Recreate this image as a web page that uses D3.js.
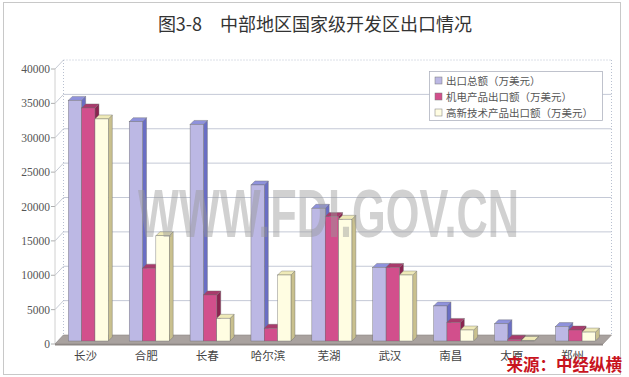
<!DOCTYPE html>
<html><head><meta charset="utf-8">
<script src="https://cdn.jsdelivr.net/npm/d3@7"></script>
<style>html,body{margin:0;padding:0;background:#fff;}svg{display:block;}</style>
</head><body>
<script>
const categories = ["长沙","合肥","长春","哈尔滨","芜湖","武汉","南昌","太原","郑州"];
const seriesNames = ["出口总额（万美元）","机电产品出口额（万美元）","高新技术产品出口额（万美元）"];
const totalExport = [35000, 31900, 31500, 22700, 19300, 10700, 5100, 2500, 2100];
const mechElecExport = [33900, 10600, 6700, 1850, 18100, 10700, 2700, 250, 1600];
const hiTechExport = [32300, 15300, 3300, 9600, 17700, 9600, 1600, 80, 1300];
const yTicks = [0,5000,10000,15000,20000,25000,30000,35000,40000];
const title = "图3-8　中部地区国家级开发区出口情况";
const sourceText = "来源：中经纵横";
const watermark = "WWW.FDI.GOV.CN";

const W = 629, H = 377;
const series = [totalExport, mechElecExport, hiTechExport];
const colors = [
  {front:"#bcb8e4", side:"#6a6ec4", top:"#8f92dc"},
  {front:"#d24f8c", side:"#8a2450", top:"#a93a6c"},
  {front:"#fffde2", side:"#c9c08e", top:"#efeab8"}
];

const svg = d3.select("body").append("svg").attr("width", W).attr("height", H);

// frame
svg.append("rect").attr("x",3.5).attr("y",2.5).attr("width",617).attr("height",372)
  .attr("fill","#fff").attr("stroke","#c8c8c8").attr("stroke-width",1);

const x = d3.scaleBand().domain(categories).range([55, 603]).paddingInner(0).paddingOuter(0);
const xs = d3.scaleBand().domain(d3.range(3)).range([13.3, 53.3]);
const y = d3.scaleLinear().domain([0, 40000]).range([344, 69]);
const wdx = 8.5, wdy = -9;   // back wall depth offset
const bdy = -3;             // bar plane offset
const ddx = 4, ddy = -4;    // bar depth

// back wall gridlines
const g = svg.append("g");
yTicks.forEach(t => {
  const yy = y(t) + wdy;
  if (t === 40000 || t === 0) return;
  g.append("line").attr("x1", 55 + wdx).attr("x2", 603 + wdx).attr("y1", yy).attr("y2", yy)
    .attr("stroke", "#c4c9d6").attr("stroke-width", 1);
});
// top dotted edge + wall verticals
g.append("line").attr("x1",55+wdx).attr("x2",603+wdx).attr("y1",y(40000)+wdy).attr("y2",y(40000)+wdy)
  .attr("stroke","#b8c0d0").attr("stroke-dasharray","1,2");
g.append("line").attr("x1",55+wdx).attr("x2",55+wdx).attr("y1",y(40000)+wdy).attr("y2",y(0)+wdy)
  .attr("stroke","#b8c0d0").attr("stroke-dasharray","1,2");
g.append("line").attr("x1",603+wdx).attr("x2",603+wdx).attr("y1",y(40000)+wdy).attr("y2",y(0)+wdy)
  .attr("stroke","#b8c0d0").attr("stroke-dasharray","1,2");

// side wall tick connectors and axis line
yTicks.forEach(t => {
  g.append("line").attr("x1",55).attr("y1",y(t)).attr("x2",55+wdx).attr("y2",y(t)+wdy)
    .attr("stroke","#b8bcc8").attr("stroke-width",0.8);
  g.append("line").attr("x1",51).attr("y1",y(t)).attr("x2",55).attr("y2",y(t))
    .attr("stroke","#9a9a9a").attr("stroke-width",0.8);
});
g.append("line").attr("x1",55).attr("x2",55).attr("y1",y(40000)).attr("y2",y(0))
  .attr("stroke","#c4c4c4").attr("stroke-width",0.8);

// y labels
svg.append("g").selectAll("text").data(yTicks).join("text")
  .attr("x", 50).attr("y", d => y(d)).attr("dy","0.35em").attr("text-anchor","end")
  .attr("font-family","Liberation Serif").attr("font-size",11.5).attr("fill","#555")
  .text(d => d);

// floor
const fy0 = y(0);
svg.append("path")
  .attr("d", `M55,${fy0} L603,${fy0} L${603+wdx},${fy0+wdy} L${55+wdx},${fy0+wdy} Z`)
  .attr("fill","#a9a29f").attr("stroke","#8f8885").attr("stroke-width",0.6);
svg.append("rect").attr("x",55).attr("y",fy0).attr("width",548).attr("height",1.5).attr("fill","#8d8784");

// bars
const bars = svg.append("g");
categories.forEach((c, ci) => {
  series.forEach((s, si) => {
    const v = s[ci];
    const x0 = x(c) + xs(si), bw = xs.bandwidth();
    const yb = y(0) + bdy, yt = y(v) + bdy;
    const col = colors[si];
    const gg = bars.append("g");
    // side
    gg.append("path").attr("d", `M${x0+bw},${yb} L${x0+bw+ddx},${yb+ddy} L${x0+bw+ddx},${yt+ddy} L${x0+bw},${yt} Z`)
      .attr("fill", col.side).attr("stroke","#6a6a6a").attr("stroke-width",0.4);
    // top
    gg.append("path").attr("d", `M${x0},${yt} L${x0+ddx},${yt+ddy} L${x0+bw+ddx},${yt+ddy} L${x0+bw},${yt} Z`)
      .attr("fill", col.top).attr("stroke","#6a6a6a").attr("stroke-width",0.4);
    // front
    gg.append("rect").attr("x", x0).attr("y", yt).attr("width", bw).attr("height", Math.max(0, yb - yt))
      .attr("fill", col.front).attr("stroke","#6a6a6a").attr("stroke-width",0.4);
  });
});

// category labels
svg.append("g").selectAll("text").data(categories).join("text")
  .attr("x", d => x(d) + x.bandwidth()/2).attr("y", 356).attr("dy","0.35em").attr("text-anchor","middle")
  .attr("font-family","Noto Sans CJK SC").attr("font-size",11.5).attr("fill","#444")
  .text(d => d);

// watermark
svg.append("text").attr("x",138).attr("y",237).attr("textLength",381).attr("lengthAdjust","spacingAndGlyphs")
  .attr("font-family","Liberation Sans").attr("font-weight","bold").attr("font-size",68)
  .attr("fill","#9a9a9a").attr("fill-opacity",0.45).text(watermark);

// legend
const lg = svg.append("g");
lg.append("rect").attr("x",429.5).attr("y",71.5).attr("width",173).attr("height",49)
  .attr("fill","#fff").attr("stroke","#b0b4c0").attr("stroke-width",0.8);
seriesNames.forEach((n, i) => {
  const yy = 81 + i*16;
  lg.append("rect").attr("x",435).attr("y",yy-4).attr("width",7).attr("height",7)
    .attr("fill",colors[i].front).attr("stroke","#777").attr("stroke-width",0.5);
  lg.append("text").attr("x",446).attr("y",yy).attr("dy","0.35em")
    .attr("font-family","Noto Sans CJK SC").attr("font-size",10.5).attr("fill","#555").text(n);
});

// title
svg.append("text").attr("x",315).attr("y",25).attr("dy","0.35em").attr("text-anchor","middle")
  .attr("font-family","Noto Sans CJK SC").attr("font-size",18).attr("fill","#333").text(title);

// source
svg.append("text").attr("x",622).attr("y",365).attr("dy","0.35em").attr("text-anchor","end")
  .attr("font-family","Noto Sans CJK SC").attr("font-weight","bold").attr("font-size",16.5)
  .attr("fill","#c8141e").text(sourceText);
</script>
</body></html>
